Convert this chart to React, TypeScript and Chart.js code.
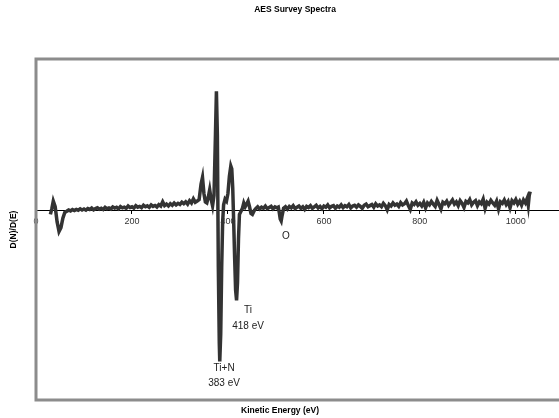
import React, { useEffect, useRef } from "react";
import { Chart, registerables } from "chart.js";

Chart.register(...registerables);

// Kinetic energy (eV) and D(N)/D(E) signal (arbitrary units)
const energy: number[] = [
  // low-energy wiggle
  30, 33, 36, 40, 44, 48, 52, 56, 60,
  // baseline up to the Ti/N region
  64, 68, 72, 76, 80, 84, 88, 92, 96, 100,
  104, 108, 112, 116, 120, 124, 128, 132, 136, 140,
  144, 148, 152, 156, 160, 164, 168, 172, 176, 180,
  184, 188, 192, 196, 200, 204, 208, 212, 216, 220,
  224, 228, 232, 236, 240, 244, 248, 252, 256, 260,
  264, 268, 272, 276, 280, 284, 288, 292, 296, 300,
  304, 308, 312, 316, 320, 324, 328, 332, 336, 340,
  // Ti / N peaks
  344, 347, 350, 353, 356, 359, 362, 365, 368, 371,
  374, 376, 378, 380, 382, 383, 385, 387, 389, 391,
  394, 397, 400, 403, 406, 408, 410, 412, 414, 416,
  418, 420, 422, 424, 427, 430, 433, 436, 439, 442,
  445, 448, 451, 455,
  // O region
  458, 462, 466, 470, 474, 478, 482, 486, 490, 494,
  498, 502, 505, 507, 509, 511, 513, 516,
  // high-energy baseline
  520, 524, 528, 532, 536, 540, 544, 548, 552, 556,
  560, 564, 568, 572, 576, 580, 584, 588, 592, 596,
  600, 604, 608, 612, 616, 620, 624, 628, 632, 636,
  640, 644, 648, 652, 656, 660, 664, 668, 672, 676,
  680, 684, 688, 692, 696, 700, 704, 708, 712, 716,
  720, 724, 728, 732, 736, 740, 744, 748, 752, 756,
  760, 764, 768, 772, 776, 780, 784, 788, 792, 796,
  800, 804, 808, 812, 816, 820, 824, 828, 832, 836,
  840, 844, 848, 852, 856, 860, 864, 868, 872, 876,
  880, 884, 888, 892, 896, 900, 904, 908, 912, 916,
  920, 924, 928, 932, 936, 940, 944, 948, 952, 956,
  960, 964, 968, 972, 976, 980, 984, 988, 992, 996,
  1000, 1004, 1008, 1012, 1016, 1020, 1024, 1026, 1028, 1030,
];

const signal: number[] = [
  -20, 10, 50, 20, -60, -110, -90, -40, -10,
  -4, 3, -2, 5, 0, 6, 2, 9, 3, 8,
  2, 11, 6, 13, 4, 10, 15, 7, 12, 6,
  17, 10, 14, 8, 19, 13, 17, 9, 21, 14,
  18, 12, 24, 16, 20, 13, 26, 18, 22, 15,
  28, 20, 25, 17, 30, 22, 27, 19, 31, 24,
  46, 26, 34, 24, 36, 28, 40, 30, 38, 32,
  44, 36, 46, 34, 52, 40, 62, 44, 50, 58,
  140, 175, 90, 45, 40, 70, 110, 60, 25, 80,
  400, 630, 400, -300, -700, -797, -650, -300, -60, 30,
  60, 50, 90, 180, 235, 220, 120, -60, -250, -420,
  -474, -380, -150, -20, -5, 10, 40, 20, 35, 50,
  20, -15, -20, 0,
  10, 20, 8, 18, 12, 24, 10, 16, 22, 9,
  19, 14, 18, -10, -45, -55, -25, 12,
  20, 8, 22, 14, 26, 10, 18, 24, 12, 20,
  6, 22, 16, 26, 12, 20, 28, 14, 22, 10,
  24, 18, 30, 14, 22, 26, 12, 24, 18, 30,
  16, 26, 20, 32, 14, 24, 28, 18, 30, 22,
  12, 28, 34, 20, 26, 32, 18, 36, 24, 30,
  20, 38, 26, 4, 32, 24, 40, 28, 34, 22,
  42, 30, 36, 50, 26, 6, 40, 32, 46, 28,
  38, 24, 44, 14, 40, 30, 48, 34, 22, 54,
  32, 8, 44, 36, 50, 28, 42, 56, 34, 46,
  26, 52, 38, 16, 48, 40, 58, 30, 44, 52,
  26, 46, 36, 60, 12, 44, 34, 54, 40, 28,
  50, 8, 46, 38, 56, 32, 48, 14, 52, 40,
  58, 34, 50, 28, 56, 40, 66, 30, 80, 100,
];

const xTicks: number[] = [0, 200, 400, 600, 800, 1000];

// Peak annotations placed at (energy, signal)
const noteX: number[] = [392, 392, 442, 442, 521];
const noteY: number[] = [-831, -910, -525, -609, -134];
const noteText: string[] = ["Ti+N", "383 eV", "Ti", "418 eV", "O"];

const chartTitle = "AES Survey Spectra";
const xTitle = "Kinetic Energy (eV)";
const yTitle = "D(N)/D(E)";

const FONT = "'Liberation Sans', Arial, Helvetica, sans-serif";

export default function App() {
  const canvasRef = useRef<HTMLCanvasElement | null>(null);

  useEffect(() => {
    const canvas = canvasRef.current;
    if (!canvas) return;

    const framePlugin = {
      id: "frameAndText",
      beforeDatasetsDraw(chart: any) {
        const { ctx, chartArea } = chart;
        ctx.save();
        ctx.strokeStyle = "#8c8c8c";
        ctx.lineWidth = 3;
        ctx.beginPath();
        ctx.moveTo(chart.width + 5, chartArea.top);
        ctx.lineTo(chartArea.left, chartArea.top);
        ctx.lineTo(chartArea.left, chartArea.bottom);
        ctx.lineTo(chart.width + 5, chartArea.bottom);
        ctx.stroke();
        ctx.restore();
      },
      afterDraw(chart: any) {
        const { ctx, chartArea } = chart;
        const xs = chart.scales.x;
        const ys = chart.scales.y;
        ctx.save();
        ctx.fillStyle = "#000";
        ctx.textAlign = "center";
        ctx.textBaseline = "middle";
        ctx.font = `bold 8.5px ${FONT}`;
        ctx.fillText(chartTitle, 295, 10);
        ctx.fillText(xTitle, 280, 411);
        ctx.save();
        ctx.translate(14, (chartArea.top + chartArea.bottom) / 2);
        ctx.rotate(-Math.PI / 2);
        ctx.fillText(yTitle, 0, 0);
        ctx.restore();
        ctx.font = `10px ${FONT}`;
        ctx.fillStyle = "#222";
        for (let i = 0; i < noteText.length; i++) {
          ctx.fillText(noteText[i], xs.getPixelForValue(noteX[i]), ys.getPixelForValue(noteY[i]));
        }
        ctx.restore();
      },
    };

    const chart = new Chart(canvas, {
      type: "line",
      data: {
        datasets: [
          {
            data: energy.map((e, i) => ({ x: e, y: signal[i] })),
            borderColor: "#333333",
            borderWidth: 3.5,
            pointRadius: 0,
            tension: 0,
            fill: false,
          },
        ],
      },
      options: {
        responsive: false,
        animation: false,
        devicePixelRatio: 1,
        layout: { padding: { left: 36, top: 59, right: 0, bottom: 18 } },
        plugins: {
          legend: { display: false },
          title: { display: false },
          tooltip: { enabled: false },
        },
        scales: {
          x: {
            type: "linear",
            min: 0,
            max: 1090,
            position: { y: 0 } as any,
            afterBuildTicks: (s: any) => {
              s.ticks = xTicks.map((v) => ({ value: v }));
            },
            ticks: {
              font: { size: 9, family: FONT },
              color: "#333",
              padding: 3,
              maxRotation: 0,
              autoSkip: false,
              callback: (v: any) => String(v),
            },
            grid: {
              drawOnChartArea: false,
              drawTicks: true,
              tickLength: 3,
              tickColor: "#000",
            },
            border: { display: true, color: "#000", width: 1 },
          },
          y: {
            type: "linear",
            min: -1000,
            max: 800,
            display: false,
          },
        },
      },
      plugins: [framePlugin],
    });

    return () => chart.destroy();
  }, []);

  return (
    <div style={{ position: "absolute", left: 0, top: 0, width: 559, height: 418, overflow: "hidden", background: "#fff" }}>
      <canvas ref={canvasRef} width={559} height={418} style={{ display: "block" }} />
    </div>
  );
}
